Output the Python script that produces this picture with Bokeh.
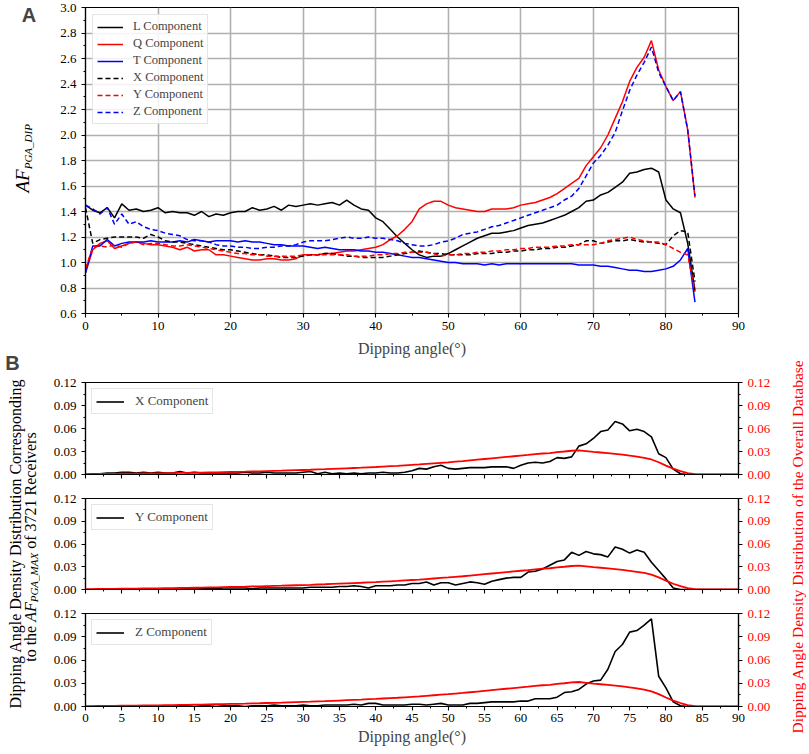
import math
from bokeh.plotting import figure
from bokeh.models import Range1d, LinearAxis, FixedTicker, PrintfTickFormatter, Label
from bokeh.layouts import row, column
from bokeh.embed import file_html
from bokeh.resources import INLINE

SERIF = "Liberation Serif"
SANS = "Liberation Sans"

# ---------------- Panel A data ----------------
DIP_A = list(range(0, 85))
L_COMP = [1.45, 1.41, 1.39, 1.43, 1.35, 1.46, 1.41, 1.42, 1.40, 1.41,
          1.43, 1.39, 1.40, 1.39, 1.39, 1.37, 1.40, 1.36, 1.38, 1.37,
          1.39, 1.40, 1.40, 1.43, 1.41, 1.42, 1.44, 1.41, 1.45, 1.44,
          1.45, 1.46, 1.45, 1.46, 1.47, 1.45, 1.49, 1.45, 1.42, 1.41,
          1.35, 1.32, 1.26, 1.20, 1.15, 1.10, 1.06, 1.04, 1.05, 1.05,
          1.07, 1.10, 1.13, 1.16, 1.19, 1.21, 1.23, 1.23, 1.24, 1.25,
          1.27, 1.29, 1.30, 1.31, 1.33, 1.35, 1.37, 1.40, 1.43, 1.48,
          1.49, 1.53, 1.55, 1.59, 1.63, 1.70, 1.71, 1.73, 1.74, 1.71,
          1.49, 1.42, 1.39, 1.15, 0.78]
Q_COMP = [0.92, 1.10, 1.15, 1.17, 1.11, 1.13, 1.15, 1.16, 1.15, 1.14,
          1.14, 1.13, 1.12, 1.10, 1.12, 1.09, 1.10, 1.10, 1.06, 1.06,
          1.05, 1.04, 1.03, 1.02, 1.02, 1.03, 1.03, 1.02, 1.02, 1.03,
          1.06, 1.06, 1.06, 1.07, 1.07, 1.08, 1.09, 1.09, 1.10, 1.11,
          1.12, 1.14, 1.18, 1.21, 1.26, 1.32, 1.42, 1.46, 1.48, 1.48,
          1.45, 1.43, 1.42, 1.41, 1.40, 1.40, 1.42, 1.42, 1.42, 1.43,
          1.45, 1.46, 1.47, 1.49, 1.51, 1.54, 1.58, 1.62, 1.66, 1.76,
          1.83, 1.90, 2.00, 2.13, 2.26, 2.42, 2.53, 2.61, 2.74, 2.51,
          2.38, 2.27, 2.34, 2.04, 1.51]
T_COMP = [0.92, 1.13, 1.13, 1.18, 1.13, 1.15, 1.16, 1.16, 1.16, 1.17,
          1.16, 1.16, 1.16, 1.17, 1.16, 1.18, 1.17, 1.16, 1.17, 1.17,
          1.17, 1.16, 1.17, 1.16, 1.16, 1.15, 1.14, 1.14, 1.13, 1.13,
          1.13, 1.12, 1.11, 1.12, 1.11, 1.10, 1.10, 1.10, 1.09, 1.09,
          1.08, 1.08, 1.07, 1.06, 1.05, 1.04, 1.04, 1.03, 1.02, 1.01,
          1.00, 1.00, 0.99, 0.99, 0.99, 0.98, 0.99, 0.98, 0.99, 0.99,
          0.99, 0.99, 0.99, 0.99, 0.99, 0.99, 0.99, 0.99, 0.98, 0.98,
          0.98, 0.97, 0.97, 0.96, 0.95, 0.94, 0.94, 0.93, 0.93, 0.94,
          0.95, 0.97, 1.02, 1.11, 0.69]
X_COMP = [1.43, 1.15, 1.18, 1.19, 1.20, 1.20, 1.20, 1.20, 1.19, 1.22,
          1.20, 1.17, 1.16, 1.16, 1.15, 1.14, 1.13, 1.12, 1.11, 1.10,
          1.10, 1.09, 1.08, 1.07, 1.06, 1.06, 1.05, 1.04, 1.04, 1.04,
          1.05, 1.06, 1.06, 1.07, 1.07, 1.06, 1.05, 1.05, 1.04, 1.04,
          1.04, 1.04, 1.05, 1.06, 1.07, 1.08, 1.09, 1.08, 1.07, 1.07,
          1.06, 1.06, 1.06, 1.06, 1.07, 1.07, 1.07, 1.08, 1.08, 1.09,
          1.09, 1.10, 1.10, 1.11, 1.11, 1.12, 1.12, 1.13, 1.14, 1.17,
          1.17, 1.15, 1.16, 1.17, 1.17, 1.18, 1.17, 1.16, 1.16, 1.15,
          1.14, 1.21, 1.25, 1.24, 0.85]
Y_COMP = [0.95, 1.12, 1.13, 1.12, 1.14, 1.12, 1.15, 1.16, 1.14, 1.15,
          1.15, 1.14, 1.13, 1.13, 1.14, 1.13, 1.12, 1.11, 1.10, 1.09,
          1.08, 1.07, 1.07, 1.06, 1.06, 1.05, 1.05, 1.05, 1.05, 1.05,
          1.06, 1.06, 1.06, 1.06, 1.06, 1.06, 1.06, 1.05, 1.05, 1.05,
          1.06, 1.06, 1.07, 1.07, 1.08, 1.08, 1.08, 1.08, 1.07, 1.05,
          1.06, 1.06, 1.07, 1.07, 1.08, 1.08, 1.09, 1.09, 1.10, 1.10,
          1.11, 1.11, 1.12, 1.12, 1.12, 1.13, 1.13, 1.14, 1.14, 1.14,
          1.14, 1.15, 1.17, 1.18, 1.19, 1.20, 1.18, 1.17, 1.16, 1.16,
          1.14, 1.11, 1.08, 1.06, 0.77]
Z_COMP = [1.45, 1.42, 1.38, 1.43, 1.30, 1.38, 1.30, 1.32, 1.28, 1.26,
          1.25, 1.23, 1.22, 1.21, 1.18, 1.17, 1.17, 1.16, 1.14, 1.13,
          1.13, 1.12, 1.12, 1.11, 1.11, 1.12, 1.12, 1.13, 1.13, 1.14,
          1.16, 1.17, 1.17, 1.17, 1.18, 1.19, 1.20, 1.19, 1.19, 1.20,
          1.19, 1.19, 1.18, 1.17, 1.15, 1.14, 1.13, 1.13, 1.14, 1.16,
          1.17, 1.19, 1.22, 1.23, 1.24, 1.26, 1.28, 1.29, 1.31, 1.33,
          1.35, 1.37, 1.39, 1.41, 1.43, 1.45, 1.49, 1.52, 1.58, 1.68,
          1.78, 1.84, 1.92, 2.02, 2.19, 2.35, 2.47, 2.57, 2.69, 2.49,
          2.38, 2.27, 2.34, 2.04, 1.52]

A_SERIES = ["L Component", "Q Component", "T Component",
            "X Component", "Y Component", "Z Component"]
A_VALUES = [L_COMP, Q_COMP, T_COMP, X_COMP, Y_COMP, Z_COMP]
A_COLORS = ["#000000", "#ff0000", "#0000ff", "#000000", "#ff0000", "#0000ff"]
A_DASHES = ["solid", "solid", "solid", "5 3", "5 3", "5 3"]

A_XTICKS = [0, 10, 20, 30, 40, 50, 60, 70, 80, 90]
A_XMINOR = [5, 15, 25, 35, 45, 55, 65, 75, 85]
A_YTICKS = [0.6, 0.8, 1.0, 1.2, 1.4, 1.6, 1.8, 2.0, 2.2, 2.4, 2.6, 2.8, 3.0]
A_YMINOR = [0.7, 0.9, 1.1, 1.3, 1.5, 1.7, 1.9, 2.1, 2.3, 2.5, 2.7, 2.9]

# ---------------- Panel B data ----------------
DIP_B = list(range(0, 91))
XB = [0.000, 0.001, 0.001, 0.002, 0.002, 0.003, 0.003, 0.002, 0.003, 0.002,
      0.003, 0.002, 0.002, 0.004, 0.002, 0.003, 0.002, 0.002, 0.002, 0.002,
      0.002, 0.002, 0.003, 0.002, 0.002, 0.003, 0.002, 0.002, 0.002, 0.002,
      0.003, 0.004, 0.001, 0.003, 0.001, 0.002, 0.001, 0.002, 0.001, 0.002,
      0.002, 0.003, 0.002, 0.002, 0.003, 0.005, 0.008, 0.007, 0.010, 0.012,
      0.008, 0.007, 0.008, 0.009, 0.009, 0.009, 0.010, 0.010, 0.010, 0.008,
      0.012, 0.015, 0.016, 0.015, 0.017, 0.022, 0.021, 0.023, 0.037, 0.040,
      0.047, 0.056, 0.058, 0.069, 0.066, 0.057, 0.059, 0.056, 0.049, 0.027,
      0.022, 0.007, 0.001, 0.0, 0.0, 0.0, 0.0, 0.0, 0.0, 0.0, 0.0]
YB = [0.000, 0.000, 0.001, 0.001, 0.001, 0.001, 0.001, 0.001, 0.001, 0.001,
      0.001, 0.001, 0.001, 0.001, 0.001, 0.001, 0.001, 0.002, 0.001, 0.002,
      0.002, 0.002, 0.002, 0.001, 0.002, 0.002, 0.002, 0.002, 0.002, 0.002,
      0.002, 0.003, 0.003, 0.003, 0.003, 0.004, 0.004, 0.005, 0.004, 0.002,
      0.005, 0.005, 0.005, 0.006, 0.006, 0.008, 0.008, 0.010, 0.006, 0.009,
      0.009, 0.006, 0.008, 0.010, 0.009, 0.007, 0.011, 0.013, 0.015, 0.016,
      0.016, 0.023, 0.024, 0.027, 0.032, 0.037, 0.039, 0.049, 0.045, 0.050,
      0.047, 0.046, 0.043, 0.056, 0.053, 0.048, 0.052, 0.049, 0.036, 0.025,
      0.014, 0.002, 0.0, 0.0, 0.0, 0.0, 0.0, 0.0, 0.0, 0.0, 0.0]
ZB = [0.000, 0.000, 0.001, 0.001, 0.001, 0.001, 0.000, 0.001, 0.000, 0.001,
      0.000, 0.001, 0.000, 0.001, 0.001, 0.000, 0.001, 0.001, 0.000, 0.001,
      0.001, 0.001, 0.000, 0.001, 0.001, 0.001, 0.002, 0.001, 0.001, 0.001,
      0.002, 0.001, 0.001, 0.002, 0.002, 0.002, 0.002, 0.003, 0.002, 0.004,
      0.004, 0.002, 0.002, 0.002, 0.002, 0.003, 0.003, 0.002, 0.003, 0.004,
      0.002, 0.002, 0.002, 0.004, 0.004, 0.005, 0.006, 0.006, 0.006, 0.006,
      0.007, 0.007, 0.010, 0.010, 0.010, 0.012, 0.018, 0.019, 0.022, 0.029,
      0.033, 0.034, 0.048, 0.071, 0.080, 0.096, 0.098, 0.105, 0.113, 0.039,
      0.024, 0.006, 0.001, 0.0, 0.0, 0.0, 0.0, 0.0, 0.0, 0.0, 0.0]
OVERALL = [0.0005, 0.0006, 0.0007, 0.0008, 0.0009, 0.0010, 0.0011, 0.0012, 0.0013, 0.0014,
           0.0015, 0.0017, 0.0018, 0.0020, 0.0021, 0.0023, 0.0025, 0.0027, 0.0029, 0.0031,
           0.0033, 0.0035, 0.0037, 0.0040, 0.0042, 0.0045, 0.0048, 0.0050, 0.0053, 0.0056,
           0.0059, 0.0062, 0.0066, 0.0069, 0.0073, 0.0077, 0.0081, 0.0085, 0.0089, 0.0094,
           0.0098, 0.0103, 0.0108, 0.0113, 0.0119, 0.0125, 0.0131, 0.0138, 0.0145, 0.0152,
           0.0159, 0.0167, 0.0175, 0.0184, 0.0193, 0.0202, 0.0211, 0.0220, 0.0229, 0.0238,
           0.0247, 0.0256, 0.0266, 0.0274, 0.0280, 0.0291, 0.0300, 0.0310, 0.0316, 0.0306,
           0.0294, 0.0287, 0.0279, 0.0270, 0.0259, 0.0247, 0.0233, 0.0218, 0.0196, 0.0160,
           0.0116, 0.0076, 0.0045, 0.0019, 0.0005, 0.0, 0.0, 0.0, 0.0, 0.0, 0.0]

B_SERIES = ["X Component", "Y Component", "Z Component"]
B_VALUES = [XB, YB, ZB]

B_XTICKS = [0, 5, 10, 15, 20, 25, 30, 35, 40, 45, 50, 55, 60, 65, 70, 75, 80, 85, 90]
B_XMINOR = [2.5, 7.5, 12.5, 17.5, 22.5, 27.5, 32.5, 37.5, 42.5, 47.5, 52.5,
            57.5, 62.5, 67.5, 72.5, 77.5, 82.5, 87.5]
B_YTICKS = [0.0, 0.03, 0.06, 0.09, 0.12]
B_YMINOR = [0.015, 0.045, 0.075, 0.105]

X_TITLE = "Dipping angle(°)"
B_LEFT_1 = "Dipping Angle Density Distribution Corresponding"
B_RIGHT = "Dipping Angle Density Distribution of the Overall Database"


def style_axis(ax, ticks, minor, fmt=None, show_labels=True):
    ax.ticker = FixedTicker(ticks=ticks, minor_ticks=minor)
    if fmt:
        ax.formatter = PrintfTickFormatter(format=fmt)
    ax.axis_line_color = "#000000"
    ax.axis_line_width = 1.2
    ax.major_tick_line_color = "#000000"
    ax.minor_tick_line_color = "#000000"
    ax.major_tick_line_width = 1.1
    ax.minor_tick_line_width = 1.0
    ax.major_tick_out = 4
    ax.major_tick_in = 0
    ax.minor_tick_out = 2
    ax.minor_tick_in = 0
    ax.major_label_text_font = SERIF
    ax.major_label_text_font_size = "13px"
    ax.major_label_text_color = "#000000"
    if not show_labels:
        ax.major_label_text_font_size = "0px"
        ax.major_label_text_color = None
        ax.major_label_standoff = 0


def blank_fig(w, h, xr, yr):
    f = figure(width=w, height=h, output_backend="svg", toolbar_location=None,
               x_range=Range1d(*xr), y_range=Range1d(*yr),
               x_axis_location=None, y_axis_location=None,
               min_border=0, min_border_left=0, min_border_right=0,
               min_border_top=0, min_border_bottom=0)
    f.grid.visible = False
    f.outline_line_color = None
    f.background_fill_color = None
    f.border_fill_color = None
    return f


def vlabel(fig, x, y, text, size, style="normal", color="#000000", align="left"):
    fig.add_layout(Label(x=x, y=y, text=text, text_font=SERIF, text_font_style=style,
                         text_font_size=size, text_color=color, angle=math.pi / 2,
                         text_align=align, text_baseline="middle"))


MID_W = 743
BORDER_L, BORDER_R = 45, 45

# ---------------- Panel A ----------------
A_TOP, A_BOTTOM, A_H = 7, 313, 374
pa = figure(width=MID_W, height=A_H, x_range=Range1d(0, 90), y_range=Range1d(0.6, 3.0),
            output_backend="svg", toolbar_location=None,
            min_border_left=BORDER_L, min_border_right=BORDER_R,
            min_border_top=A_TOP, min_border_bottom=A_H - A_BOTTOM)
pa.outline_line_color = "#000000"
pa.outline_line_width = 1.2
style_axis(pa.xaxis[0], A_XTICKS, A_XMINOR)
style_axis(pa.yaxis[0], A_YTICKS, A_YMINOR, "%.1f")
pa.xaxis.major_label_standoff = 4
pa.xaxis.axis_label = X_TITLE
pa.xaxis.axis_label_text_font = SERIF
pa.xaxis.axis_label_text_font_style = "normal"
pa.xaxis.axis_label_text_font_size = "16px"
pa.xaxis.axis_label_standoff = 7
pa.xgrid.ticker = FixedTicker(ticks=A_XTICKS)
pa.ygrid.ticker = FixedTicker(ticks=A_YTICKS)
pa.grid.grid_line_color = "#b0b0b0"
pa.grid.grid_line_width = 1.6

for name, vals, col, dash in zip(A_SERIES, A_VALUES, A_COLORS, A_DASHES):
    pa.line(DIP_A, vals, line_color=col, line_width=1.5, line_dash=dash, legend_label=name)

lg = pa.legend[0]
lg.location = "top_left"
lg.margin = 7
lg.padding = 4
lg.spacing = 2
lg.glyph_width = 26
lg.glyph_height = 14
lg.label_height = 14
lg.label_standoff = 10
lg.label_text_font = SERIF
lg.label_text_font_size = "12.5px"
lg.border_line_color = "#cccccc"
lg.border_line_width = 1
lg.background_fill_alpha = 0.85

# ---------------- Panel B ----------------
heights = [112, 115, 152]
tops = [8, 12, 12]
bottoms = [12, 12, 47]
bfigs = []
for i, (name, vals) in enumerate(zip(B_SERIES, B_VALUES)):
    last = i == 2
    p = figure(width=MID_W, height=heights[i], x_range=Range1d(0, 90), y_range=Range1d(0, 0.12),
               output_backend="svg", toolbar_location=None,
               min_border_left=BORDER_L, min_border_right=BORDER_R,
               min_border_top=tops[i], min_border_bottom=bottoms[i])
    p.grid.visible = False
    p.outline_line_color = "#000000"
    p.outline_line_width = 1.2
    p.extra_y_ranges = {"db": Range1d(0, 0.12)}
    style_axis(p.xaxis[0], B_XTICKS, B_XMINOR, show_labels=last)
    style_axis(p.yaxis[0], B_YTICKS, B_YMINOR, "%.2f")
    rax = LinearAxis(y_range_name="db")
    style_axis(rax, B_YTICKS, B_YMINOR, "%.2f")
    rax.major_label_text_color = "#ff0000"
    p.add_layout(rax, "right")
    if last:
        p.xaxis.major_label_standoff = 3
        p.xaxis.axis_label = X_TITLE
        p.xaxis.axis_label_text_font = SERIF
        p.xaxis.axis_label_text_font_style = "normal"
        p.xaxis.axis_label_text_font_size = "16px"
        p.xaxis.axis_label_standoff = 3
    p.line(DIP_B, vals, line_color="#000000", line_width=1.6, legend_label=name)
    p.line(DIP_B, OVERALL, line_color="#ff0000", line_width=1.8, y_range_name="db")
    lb = p.legend[0]
    lb.location = "top_left"
    lb.margin = 6
    lb.padding = 4
    lb.spacing = 0
    lb.glyph_width = 28
    lb.glyph_height = 15
    lb.label_height = 15
    lb.label_standoff = 11
    lb.label_text_font = SERIF
    lb.label_text_font_size = "13px"
    lb.border_line_color = "#cccccc"
    lb.border_line_width = 1
    lb.background_fill_alpha = 0.85
    bfigs.append(p)

TOTAL_H = A_H + sum(heights)

# tall left strip: panel tags and left axis titles (coordinates in page pixels)
left = blank_fig(40, TOTAL_H, (0, 40), (TOTAL_H, 0))
left.add_layout(Label(x=28.5, y=14, text="A", text_font=SANS, text_font_style="bold",
                      text_font_size="20px", text_align="center", text_baseline="middle"))
vlabel(left, 22, 192, "AF", "19px", "italic")
vlabel(left, 27.5, 168.8, "PGA_DIP", "11px", "italic")
left.add_layout(Label(x=12, y=362, text="B", text_font=SANS, text_font_style="bold",
                      text_font_size="20px", text_align="center", text_baseline="middle"))
vlabel(left, 15, 543, B_LEFT_1, "16px", align="center")
vlabel(left, 30, 661.3, "to the", "16px")
vlabel(left, 30, 621.3, "AF", "16px", "italic")
vlabel(left, 33.5, 601.8, "PGA_MAX", "11px", "italic")
vlabel(left, 30, 548.3, "of 3721 Receivers", "16px")

# tall right strip: red right-axis title (coordinates in page pixels)
right = blank_fig(25, TOTAL_H, (783, 808), (TOTAL_H, 0))
vlabel(right, 797, 546, B_RIGHT, "15.5px", color="#ff0000", align="center")

layout = row(left, column(pa, *bfigs), right)

open("out.html", "w").write(file_html(layout, INLINE))
